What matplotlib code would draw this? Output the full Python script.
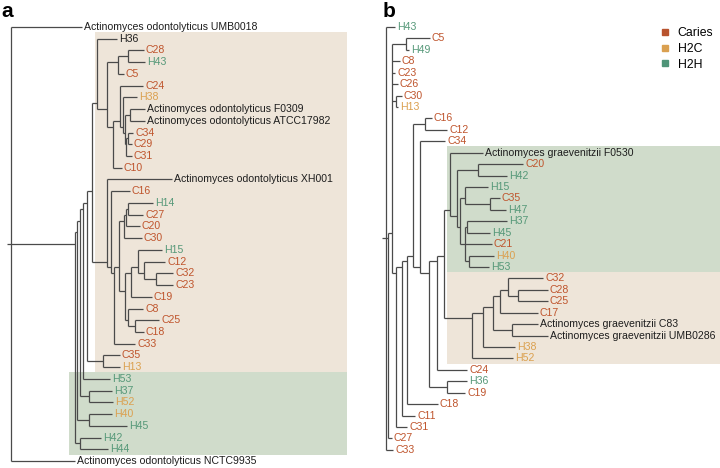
import matplotlib
matplotlib.use('Agg')
import matplotlib.pyplot as plt
from matplotlib.patches import Rectangle
from matplotlib.lines import Line2D

plt.rcParams['font.family'] = ['Liberation Sans', 'DejaVu Sans']

# group colours
colors = {'C': '#BF542C', 'HC': '#DBA04F', 'HH': '#559878', None: '#1e1e1e'}
legend_names = ['Caries', 'H2C', 'H2H']
legend_colors = ['#B8532E', '#DAA050', '#4F9478']

# trees: internal node = [depth, children...], leaf = (name, group, depth)
# depths are distances from the root (arbitrary units)
tree_a = [0,
    ('Actinomyces odontolyticus UMB0018', None, 71),
    [64,
        [66,
            [69,
                [72,
                    [76,
                        [81,
                            [86,
                                ('H36', None, 106),
                                [96,
                                    [107, [117, ('C28', 'C', 133), ('H43', 'HH', 134)], ('C5', 'C', 113)],
                                    [102,
                                        [109,
                                            ('C24', 'C', 132),
                                            [112,
                                                ('H38', 'HC', 126),
                                                [114,
                                                    [119, ('Actinomyces odontolyticus F0309', None, 134),
                                                          ('Actinomyces odontolyticus ATCC17982', None, 134)],
                                                    [115, [117, ('C34', 'C', 122), ('C29', 'C', 121)], ('C31', 'C', 121)]]]],
                                        ('C10', 'C', 111)]]],
                            [96,
                                ('Actinomyces odontolyticus XH001', None, 161),
                                [100,
                                    ('C16', 'C', 119),
                                    [103,
                                        [108,
                                            [113, [115, [117, ('H14', 'HH', 142), ('C27', 'C', 132)], ('C20', 'C', 129)],
                                                  ('C30', 'C', 131)],
                                            [114,
                                                [120,
                                                    [127, ('H15', 'HH', 151),
                                                          [133, ('C12', 'C', 154), [145, ('C32', 'C', 162), ('C23', 'C', 162)]]],
                                                    ('C19', 'C', 141)],
                                                [117, ('C8', 'C', 132), [124, ('C25', 'C', 148), ('C18', 'C', 133)]]]],
                                        ('C33', 'C', 124)]]]],
                        [92, ('C35', 'C', 109), ('H13', 'HC', 109)]],
                    ('H53', 'HH', 99)],
                [78, ('H37', 'HH', 101), ('H52', 'HC', 102)]],
            [78, ('H40', 'HC', 101), ('H45', 'HH', 116)]],
        [69, ('H42', 'HH', 90), ('H44', 'HH', 97)]],
    ('Actinomyces odontolyticus NCTC9935', None, 64)]

tree_b = [0,
    ('H43', 'HH', 9),
    [2,
        [6,
            [20, ('C5', 'C', 44), ('H49', 'HH', 23)],
            ('C8', 'C', 14),
            ('C23', 'C', 9),
            ('C26', 'C', 12),
            [10, ('C30', 'C', 16), ('H13', 'HC', 12)],
            [10,
                [16,
                    [21,
                        [27,
                            [39, ('C16', 'C', 46), ('C12', 'C', 61)],
                            [34,
                                ('C34', 'C', 59),
                                [43,
                                    [51,
                                        [58,
                                            [64,
                                                ('Actinomyces graevenitzii F0530', None, 97),
                                                [71,
                                                    [92, ('C20', 'C', 137), ('H42', 'HH', 121)],
                                                    [74,
                                                        [79, ('H15', 'HH', 102), [104, ('C35', 'C', 114), ('H47', 'HH', 120)]],
                                                        [79,
                                                            [81, ('H37', 'HH', 121), ('H45', 'HH', 104)],
                                                            ('C21', 'C', 106),
                                                            [83, ('H40', 'HC', 108), ('H53', 'HH', 103)]]]]],
                                            [86,
                                                [97,
                                                    [107,
                                                        [114,
                                                            [122, ('C32', 'C', 157), [132, ('C28', 'C', 162), ('C25', 'C', 162)]],
                                                            ('C17', 'C', 152)],
                                                        [126, ('Actinomyces graevenitzii C83', None, 152),
                                                              ('Actinomyces graevenitzii UMB0286', None, 162)]],
                                                    ('H38', 'HC', 129)],
                                                ('H52', 'HC', 127)]],
                                        ('C24', 'C', 81)],
                                    [61, ('H36', 'HH', 81), ('C19', 'C', 79)]]]],
                        ('C18', 'C', 52)],
                    ('C11', 'C', 29)],
                ('C31', 'C', 21)]],
        ('C27', 'C', 6)],
    ('C33', 'C', 7)]

# shaded clades: (first leaf, last leaf, left depth, colour)
boxes_a = [('H36', 'H13', 84, '#EEE5D9'), ('H53', 'H44', 58, '#D0DCCB')]
boxes_b = [('Actinomyces graevenitzii F0530', 'H53', 61, '#D0DCCB'),
           ('C32', 'H52', 61, '#EEE5D9')]

line_kw = dict(color='#4a4a4a', lw=0.9, solid_capstyle='butt')


def draw(ax, node, parent_d, counter, pos):
    # returns (y of node, first leaf y, last leaf y)
    if isinstance(node, tuple):
        name, grp, d = node
        y = counter[0]
        counter[0] += 1
        pos[name] = y
        ax.plot([parent_d, d], [y, y], **line_kw)
        ax.text(d + 2, y, name, color=colors[grp], fontsize=7.6, va='center', ha='left')
        return y, y, y
    d = node[0]
    res = [draw(ax, ch, d, counter, pos) for ch in node[1:]]
    lo, hi = res[0][1], res[-1][2]
    y = (lo + hi) / 2
    ax.plot([d, d], [res[0][0], res[-1][0]], **line_kw)
    ax.plot([parent_d, d], [y, y], **line_kw)
    return y, lo, hi


fig = plt.figure(figsize=(7.2, 4.68), dpi=100)
ax_a = fig.add_axes([0, 0, 0.5, 1])
ax_b = fig.add_axes([0.5, 0, 0.5, 1])

panels = [(ax_a, tree_a, boxes_a, 11, 11.73, 336),
          (ax_b, tree_b, boxes_b, 26, 11.43, 334)]
for ax, tree, boxes, x0, step, right in panels:
    pos = {}
    draw(ax, tree, -4, [0], pos)
    for first, last, left, col in boxes:
        top = pos[first] - 0.55
        bot = pos[last] + 0.45
        ax.add_patch(Rectangle((left, top), right - left, bot - top, facecolor=col,
                               edgecolor='none', zorder=0))
    ax.set_xlim(-x0, 360 - x0)
    ax.set_ylim((468 - 27) / step, -27 / step)
    ax.axis('off')

fig.text(0.002, 0.995, 'a', fontsize=15, fontweight='bold', va='top', ha='left')
fig.text(0.531, 0.995, 'b', fontsize=15, fontweight='bold', va='top', ha='left')

handles = [Line2D([], [], marker='s', ls='none', color=c, markersize=5) for c in legend_colors]
fig.legend(handles, legend_names, loc='upper right', bbox_to_anchor=(1.006, 0.965), frameon=False,
           fontsize=8.8, handlelength=0.8, handletextpad=0.6, labelspacing=0.3)

fig.savefig('out.png', dpi=100)
